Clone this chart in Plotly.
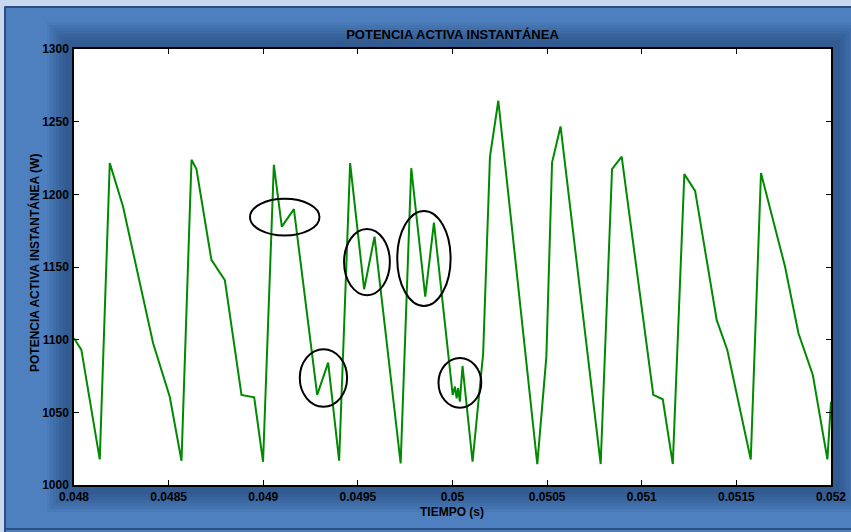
import plotly.graph_objects as go

# Instantaneous active power trace
time_s = [0.048000, 0.048039, 0.048136, 0.048189, 0.048259, 0.048418, 0.048506, 0.048568,
          0.048621, 0.048647, 0.048726, 0.048797, 0.048885, 0.048952, 0.048999,
          0.049056, 0.049098, 0.049162, 0.049285, 0.049343, 0.049401,
          0.049459, 0.049533, 0.049588, 0.049726,
          0.049782, 0.049856, 0.049902, 0.050001, 0.050013, 0.050022, 0.050030, 0.050039,
          0.050053, 0.050106, 0.050162, 0.050198, 0.050242, 0.050448,
          0.050496, 0.050526, 0.050571, 0.050783, 0.050843, 0.050894,
          0.051061, 0.051111, 0.051164, 0.051225, 0.051282, 0.051396, 0.051452, 0.051576,
          0.051630, 0.051757, 0.051828, 0.051904, 0.051981, 0.052000]
power_w = [1101, 1093, 1017.6, 1221.5, 1191.6, 1097.5, 1060.7, 1016.7,
           1223.8, 1217.4, 1154.9, 1141, 1062, 1060.3, 1016,
           1220.3, 1177.8, 1189.8, 1062, 1084.2, 1016.7,
           1221.5, 1134.7, 1170.9, 1014.9,
           1218, 1129.6, 1180.6, 1062, 1067.7, 1059.7, 1066.6, 1057.3,
           1081.9, 1016, 1090.6, 1226, 1264.4, 1014.4,
           1088.3, 1221.9, 1246.7, 1014.4, 1217.3, 1226,
           1062, 1059, 1014.4, 1213.9, 1202.4, 1113.6, 1092.9, 1017.6,
           1214.6, 1150.3, 1104.4, 1075.7, 1017.6, 1057.3]

# Highlighted disturbances: (t_start, t_end, p_low, p_high)
ellipses = [
    (0.04893, 0.049297, 1171.7, 1196.9),
    (0.049193, 0.049443, 1053.9, 1093.4),
    (0.049427, 0.049669, 1130.6, 1176.2),
    (0.049708, 0.049990, 1123.2, 1188.6),
    (0.049926, 0.050152, 1053.2, 1087.4),
]

x_ticks = [0.048, 0.0485, 0.049, 0.0495, 0.05, 0.0505, 0.051, 0.0515, 0.052]
x_tick_text = ["0.048", "0.0485", "0.049", "0.0495", "0.05", "0.0505", "0.051", "0.0515", "0.052"]
y_ticks = [1000, 1050, 1100, 1150, 1200, 1250, 1300]

W, H = 851, 532
ML, MR, MT, MB = 74, 20, 49, 47
PW, PH = W - ML - MR, H - MT - MB


def px(xp):
    return (xp - ML) / PW


def py(yp):
    return (H - MB - yp) / PH


FONT = "Liberation Sans, Arial, sans-serif"

shapes = []
# outer light frame (top strip and left strip)
shapes.append(dict(type="rect", xref="paper", yref="paper", layer="below",
                   x0=px(-5), x1=px(W + 5), y0=py(6), y1=py(-5),
                   fillcolor="#c9d7ef", line=dict(width=0)))
shapes.append(dict(type="rect", xref="paper", yref="paper", layer="below",
                   x0=px(-5), x1=px(4), y0=py(W), y1=py(-5),
                   fillcolor="#c9d7ef", line=dict(width=0)))
# panel border lines
shapes.append(dict(type="line", xref="paper", yref="paper", layer="below",
                   x0=px(5), x1=px(W + 5), y0=py(7), y1=py(7),
                   line=dict(color="#2d4f80", width=2)))
shapes.append(dict(type="line", xref="paper", yref="paper", layer="below",
                   x0=px(5), x1=px(5), y0=py(7), y1=py(H + 5),
                   line=dict(color="#2d4f80", width=2)))
shapes.append(dict(type="line", xref="paper", yref="paper", layer="below",
                   x0=px(5), x1=px(W + 5), y0=py(529), y1=py(529),
                   line=dict(color="#2d4f80", width=2)))
# darker halo around the axes box
for i in range(7):
    g = 3 * (7 - i)
    shapes.append(dict(type="rect", xref="paper", yref="paper", layer="below",
                       x0=px(ML - 6 - g), x1=px(ML + PW + 6 + g),
                       y0=py(H - MB + 6 + g), y1=py(MT - 6 - g),
                       fillcolor="rgba(20,45,90,0.07)", line=dict(width=0)))
# white plotting area
shapes.append(dict(type="rect", xref="paper", yref="paper", layer="below",
                   x0=0, x1=1, y0=0, y1=1, fillcolor="white", line=dict(width=0)))

for x0, x1, y0, y1 in ellipses:
    shapes.append(dict(type="circle", xref="x", yref="y", x0=x0, x1=x1, y0=y0, y1=y1,
                       line=dict(color="black", width=2), fillcolor="rgba(0,0,0,0)"))

fig = go.Figure()
fig.add_trace(go.Scatter(x=time_s, y=power_w, mode="lines",
                         line=dict(color="#008a00", width=2), showlegend=False))

axis_common = dict(showgrid=False, zeroline=False, showline=True, linecolor="black",
                   linewidth=1.5, mirror="ticks", ticks="inside", ticklen=5,
                   tickcolor="black", tickwidth=1, automargin=False,
                   tickfont=dict(family=FONT, size=12, color="black", weight="bold"))

fig.update_layout(
    width=W, height=H, autosize=False,
    margin=dict(l=ML, r=MR, t=MT, b=MB, pad=0, autoexpand=False),
    paper_bgcolor="#4e80bf",
    plot_bgcolor="white",
    shapes=shapes,
    xaxis=dict(range=[0.048, 0.052], tickvals=x_ticks, ticktext=x_tick_text,
               ticklabelstandoff=0, **axis_common),
    yaxis=dict(range=[1000, 1300], tickvals=y_ticks, ticklabelstandoff=1, **axis_common),
    title=dict(text="POTENCIA ACTIVA INSTANTÁNEA", x=px(452.5), xref="paper", xanchor="center",
               y=1 - 34 / H, yref="container", yanchor="middle",
               font=dict(family=FONT, size=13, color="black", weight="bold")),
    annotations=[
        dict(text="TIEMPO (s)", xref="paper", yref="paper", x=px(452), y=py(503),
             xanchor="center", yanchor="top", showarrow=False,
             font=dict(family=FONT, size=12, color="black", weight="bold")),
        dict(text="POTENCIA ACTIVA INSTANTÁNEA (W)", xref="paper", yref="paper",
             x=px(34), y=py(263), xanchor="center", yanchor="middle", textangle=-90,
             showarrow=False, font=dict(family=FONT, size=12, color="black", weight="bold")),
    ],
)

fig.write_html("out.html", config={"responsive": False})
